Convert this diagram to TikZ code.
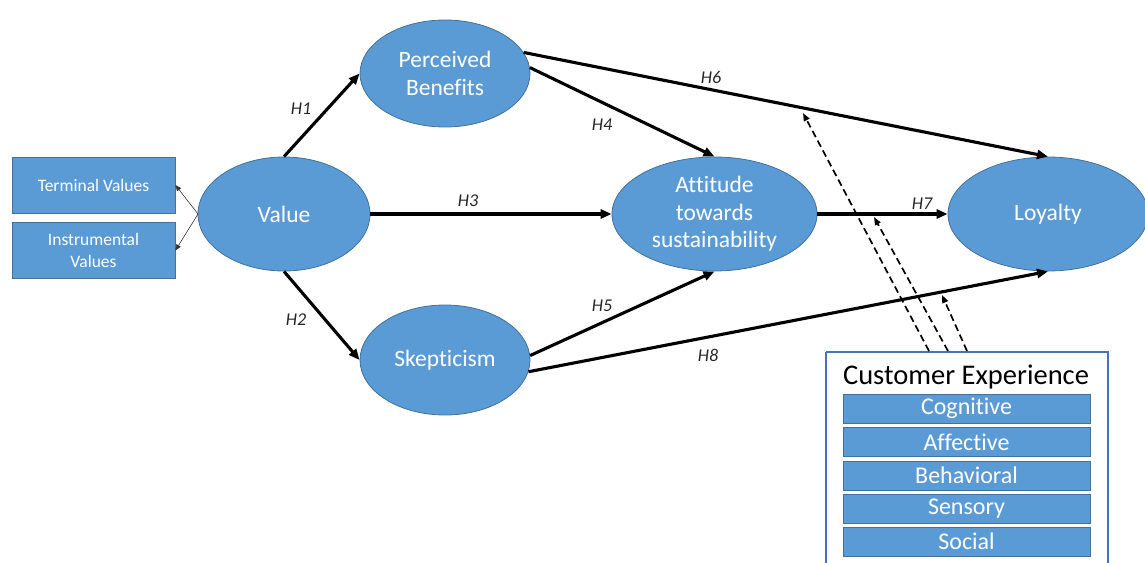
\documentclass[tikz,border=0pt]{standalone}
\usepackage{fontspec}
\setmainfont{Carlito}[Ligatures=NoCommon]
\usetikzlibrary{arrows.meta,shapes.geometric}
\definecolor{obl}{HTML}{5B9BD5}
\definecolor{obd}{HTML}{41719C}
\definecolor{ceb}{HTML}{4472C4}
\tikzset{
  ell/.style={ellipse, fill=obl, draw=obd, line width=0.8pt, text=white, inner sep=0pt, align=center,
     font=\fontsize{23.5}{27.5}\selectfont},
  valbox/.style={rectangle, fill=obl, draw=obd, line width=0.8pt, text=white, inner sep=0pt, align=center,
     minimum width=163pt, minimum height=56pt, font=\fontsize{17.5}{22}\selectfont},
  cebox/.style={rectangle, fill=obl, draw=obd, line width=0.8pt, text=white, inner sep=0pt,
     minimum width=247pt, minimum height=29pt, font=\fontsize{24}{26}\selectfont},
  hyp/.style={-{Triangle[length=11pt,width=9pt]}, line width=3.1pt, black},
  thin/.style={-{Triangle[length=6pt,width=5pt]}, line width=0.6pt, black!80},
  dsh/.style={-{Triangle[length=8pt,width=6pt]}, line width=1.7pt, black, dash pattern=on 7pt off 4pt},
  hl/.style={font=\fontsize{18}{20}\selectfont\itshape, text=black!85, inner sep=0pt}
}
\begin{document}
\begin{tikzpicture}[x=1pt,y=-1pt]
\useasboundingbox (0,0) rectangle (1145,562);
% value boxes
\node[valbox] (tv) at (93.5,185) {Terminal Values};
\node[valbox] (iv) at (93.5,250.5) {Instrumental\\Values};
% ellipses
\node[ell, minimum width=172pt, minimum height=114pt] (v) at (284,214) {Value};
\node[ell, minimum width=170pt, minimum height=107pt] (pb) at (445,73.5) {Perceived\\Benefits};
\node[ell, minimum width=170pt, minimum height=110pt] (sk) at (445,360) {Skepticism};
\node[ell, minimum width=205pt, minimum height=114pt] (at) at (714.5,214) {Attitude\\towards\\sustainability};
\node[ell, minimum width=200pt, minimum height=114pt] (ly) at (1048,214) {Loyalty};
% customer experience
\draw[ceb, line width=2.2pt] (826,352) -- (826,575) (1108,575) -- (1108,352) -- (826,352);
\node[font=\fontsize{28.5}{30}\selectfont, inner sep=0pt] (cet) at (966,377) {Customer Experience};
\node[cebox] (c1) at (966.5,408.5) {Cognitive};
\node[cebox] (c2) at (966.5,442) {Affective};
\node[cebox] (c3) at (966.5,475.5) {Behavioral};
\node[cebox] (c4) at (966.5,508.5) {Sensory};
\node[cebox] (c5) at (966.5,541.5) {Social};
% thin arrows
\coordinate (vl) at (198,214);
\draw[thin] (vl) -- (tv.east);
\draw[thin] (vl) -- (iv.east);
% hypotheses
\draw[hyp] (v.north) -- (pb.west);
\draw[hyp] (v.south) -- (sk.west);
\draw[hyp] (v.east) -- (at.west);
\draw[hyp] (pb.4) -- (at.north);
\draw[hyp] (sk.3) -- (at.south);
\draw[hyp] (pb.15) -- (ly.north);
\draw[hyp] (at.east) -- (ly.west);
\draw[hyp] (sk.-8) -- (ly.south);
\node[hl] (h1) at (301,109) {H1};
\node[hl] (h2) at (296,320) {H2};
\node[hl] (h3) at (468,201) {H3};
\node[hl] (h4) at (602,125) {H4};
\node[hl] (h5) at (602,306) {H5};
\node[hl] (h6) at (711,77) {H6};
\node[hl] (h7) at (922,204) {H7};
\node[hl] (h8) at (708,355) {H8};
% dashed moderation
\coordinate (d1s) at (929,351);
\coordinate (d1e) at (803,113);
\coordinate (d2s) at (948,351);
\coordinate (d2e) at (874,217);
\coordinate (d3s) at (967,351);
\coordinate (d3e) at (942,295);
\draw[dsh] (d1s) -- (d1e);
\draw[dsh] (d2s) -- (d2e);
\draw[dsh] (d3s) -- (d3e);
\end{tikzpicture}
\end{document}
